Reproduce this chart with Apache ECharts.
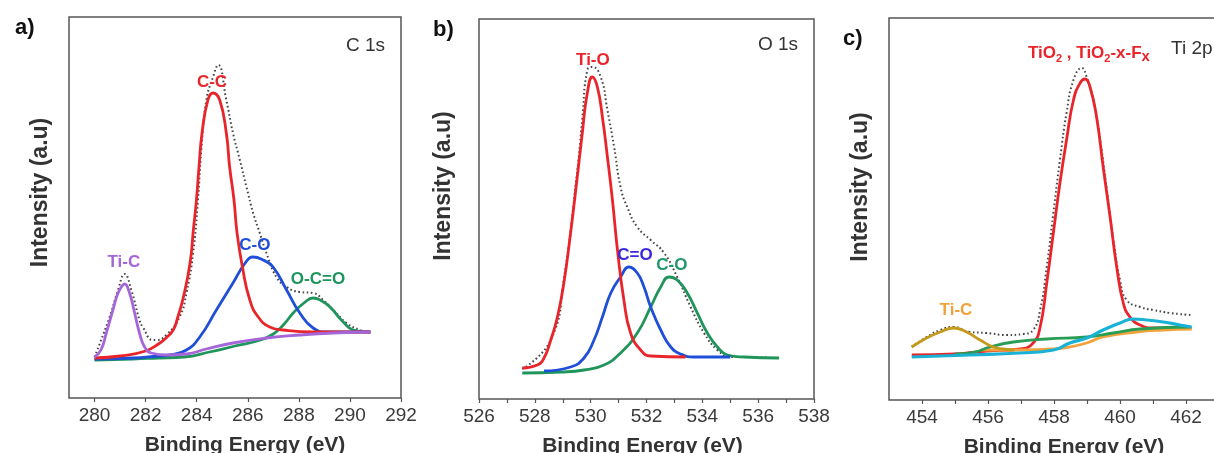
<!DOCTYPE html>
<html><head><meta charset="utf-8">
<script src="https://cdn.jsdelivr.net/npm/echarts@6/dist/echarts.min.js"></script>
<style>html,body{margin:0;padding:0;background:#fff}#c{width:1214px;height:453px}</style>
</head><body><div id="c"></div>
<script>
// ---------- data (binding energy eV, intensity a.u.) ----------
const aMajorTicks = [280, 282, 284, 286, 288, 290, 292];
const aMinorTicks = [];
const bMajorTicks = [526, 528, 530, 532, 534, 536, 538];
const bMinorTicks = [527, 529, 531, 533, 535, 537];
const cMajorTicks = [454, 456, 458, 460, 462];
const cMinorTicks = [455, 457, 459, 461];

// a) C 1s
const aTiC = [[280.0,41],[280.25,48],[280.46,65],[280.72,88],[280.92,105],[281.11,113],[281.18,114],[281.37,105],[281.57,85],[281.76,65],[281.96,51],[282.22,45],[282.81,43],[283.6,44],[284.38,49],[285.42,55],[286.73,60],[288.04,63],[289.35,65],[290.8,66]];
const aCC = [[280.0,40],[281.0,42],[282.0,47],[282.56,55],[282.8,60],[283.08,68],[283.25,80],[283.48,101],[283.74,135],[283.87,168],[283.99,198],[284.09,231],[284.21,265],[284.44,298],[284.64,305],[284.9,298],[285.16,265],[285.29,231],[285.46,198],[285.58,165],[285.79,131],[286.08,98],[286.41,81],[286.86,71],[287.39,68],[288.5,66],[290.8,66]];
const aCO = [[280.0,39],[281.5,40],[282.5,42],[282.94,43],[283.6,48],[284.12,61],[284.77,88],[285.42,115],[285.9,135],[286.21,141],[286.6,138],[286.99,131],[287.52,108],[288.04,85],[288.56,70],[289.1,66],[290.0,66],[290.8,66]];
const aOCO = [[280.0,38],[281.5,39],[282.5,40],[283.5,41],[284.5,46],[285.5,52],[286.5,58],[287.0,64],[287.39,73],[287.78,85],[288.2,95],[288.56,100],[288.9,97],[289.22,91],[289.74,76],[290.13,68],[290.8,66]];
const aEnv = [[280.0,41],[280.59,81],[280.92,108],[281.18,124],[281.44,108],[281.76,78],[281.89,71],[282.28,58],[282.42,58],[282.81,63],[283.33,81],[283.6,105],[283.86,145],[284.05,198],[284.18,248],[284.38,298],[284.64,321],[284.84,333],[285.16,298],[285.42,265],[285.69,238],[285.95,211],[286.21,185],[286.47,165],[286.73,145],[287.12,121],[287.52,111],[288.04,106],[288.56,105],[288.95,98],[289.35,88],[289.87,75],[290.39,68],[290.78,65]];

// b) O 1s
const bTiO = [[527.55,31],[528.09,34],[528.33,41],[528.57,59],[528.81,82],[529.04,116],[529.28,166],[529.52,222],[529.7,266],[529.88,306],[530.06,322],[530.24,312],[530.42,282],[530.6,242],[530.78,199],[530.96,149],[531.19,99],[531.43,66],[531.79,49],[532.15,43],[533.4,42]];
const bCdO = [[528.33,28],[529.28,32],[529.76,41],[530.12,59],[530.42,82],[530.72,106],[531.07,122],[531.37,132],[531.67,126],[531.91,112],[532.15,92],[532.51,69],[532.87,52],[533.22,45],[533.7,42],[534.3,42],[535.0,42]];
const bCO = [[527.55,26],[528.93,27],[529.76,29],[530.48,34],[531.07,46],[531.67,66],[532.15,92],[532.51,112],[532.81,122],[533.1,119],[533.46,106],[533.82,86],[534.18,66],[534.54,52],[534.9,44],[535.5,42],[536.75,41]];
const bEnv = [[527.55,30],[528.57,59],[529.04,120],[529.52,228],[529.7,280],[529.88,329],[530.06,332],[530.36,322],[530.6,289],[530.84,252],[531.07,212],[531.31,192],[531.67,172],[532.15,159],[532.63,146],[533.1,122],[533.58,92],[534.06,66],[534.54,49],[535.01,42],[535.5,42],[536.57,41]];

// c) Ti 2p
const cTiO2 = [[453.69,45],[455.0,46],[455.96,49],[456.97,51],[457.37,57],[457.58,73],[457.78,117],[457.98,167],[458.18,217],[458.38,260],[458.59,300],[458.79,317],[458.94,321],[459.09,313],[459.29,283],[459.49,233],[459.7,183],[459.9,133],[460.1,97],[460.3,83],[460.61,75],[461.01,72],[462.17,72]];
const cTiC = [[453.69,53],[454.14,62],[454.55,68],[454.95,72],[455.35,68],[455.76,60],[456.16,53],[456.46,51],[456.8,50]];
const cOrange = [[455.8,50],[456.97,50],[457.98,51],[458.48,53],[458.99,57],[459.49,63],[460.5,68],[461.3,70],[462.17,71]];
const cGreen = [[455.0,46],[455.6,48],[456.06,53],[456.77,58],[457.78,61],[458.99,63],[459.8,67],[460.61,71],[462.12,73]];
const cCyan = [[453.69,43],[455.45,45],[456.97,47],[457.98,50],[458.48,57],[458.99,62],[459.49,70],[460.0,77],[460.4,81],[460.81,80],[461.31,78],[461.82,75],[462.17,73]];
const cEnv = [[453.69,53],[454.14,63],[454.55,70],[454.95,73],[455.45,68],[455.96,67],[456.57,65],[457.07,66],[457.37,70],[457.58,90],[457.78,133],[457.98,187],[458.18,240],[458.38,287],[458.59,320],[458.84,332],[458.99,323],[459.19,300],[459.39,262],[459.6,210],[459.8,160],[460.0,120],[460.2,100],[460.61,93],[461.01,90],[461.52,87],[462.17,85]];

// ---------- styling ----------
const FONT = '"Liberation Sans", Arial, sans-serif';
const RED = '#e8252b', BLUE = '#1f4ed8', GREEN = '#1f955c', PURPLE = '#a466d9';
const GOLD = '#c49a1a', CYAN = '#19b2d6', GREEN2 = '#2a9d55', ORANGE = '#f2a23a';
const ENV = '#444';
const LW = 2.8;

function xAxis(gi, min, max, major, minor, padL, padR) {
  return {
    type: 'value', gridIndex: gi, min: min, max: max,
    axisLine: { show: false },
    splitLine: { show: false },
    axisTick: { show: true, customValues: major.concat(minor), length: 4, lineStyle: { color: '#555', width: 1.2 } },
    axisLabel: { show: true, customValues: major, fontSize: 19, color: '#3a3a3a', fontFamily: FONT, margin: 8 },
    name: 'Binding Energy (eV)', nameLocation: 'middle', nameGap: 37,
    nameTextStyle: { fontSize: 21, fontWeight: 'bold', color: '#333', fontFamily: FONT, padding: [0, padR, 0, padL] }
  };
}
function yAxis(gi, max, gap, padL) {
  return {
    type: 'value', gridIndex: gi, min: 0, max: max,
    axisLine: { show: false }, axisTick: { show: false }, axisLabel: { show: false }, splitLine: { show: false },
    name: 'Intensity (a.u)', nameLocation: 'middle', nameRotate: 90, nameGap: gap,
    nameTextStyle: { fontSize: 23, fontWeight: 'bold', color: '#333', fontFamily: FONT, padding: [0, 0, 0, padL] }
  };
}
function line(gi, data, color, width, extra) {
  return Object.assign({
    type: 'line', xAxisIndex: gi, yAxisIndex: gi, data: data, showSymbol: false, symbol: 'none',
    smooth: 0.5, animation: false, silent: true,
    lineStyle: { color: color, width: width }
  }, extra || {});
}
function env(gi, data) {
  return line(gi, data, ENV, 2, { lineStyle: { color: ENV, width: 2, type: [1.6, 2.6] }, z: 1 });
}
function tag(text, color, coord, extraLabel) {
  return {
    symbol: 'rect', symbolSize: 1, silent: true, itemStyle: { color: 'rgba(0,0,0,0)' },
    label: Object.assign({ show: true, position: 'inside', formatter: text, color: color, fontWeight: 'bold', fontSize: 17, fontFamily: FONT }, extraLabel || {}),
    data: [{ coord: coord }]
  };
}

const gridStyle = { show: true, borderColor: '#555', borderWidth: 1.5, backgroundColor: 'transparent', containLabel: false, outerBoundsMode: 'none' };

const option = {
  animation: false,
  backgroundColor: '#fff',
  title: [
    { text: 'a)', left: 10, top: 12, textStyle: { fontSize: 22, fontWeight: 'bold', color: '#111', fontFamily: FONT } },
    { text: 'b)', left: 428, top: 14, textStyle: { fontSize: 22, fontWeight: 'bold', color: '#111', fontFamily: FONT } },
    { text: 'c)', left: 838, top: 23, textStyle: { fontSize: 22, fontWeight: 'bold', color: '#111', fontFamily: FONT } },
    { text: 'C 1s', left: 341, top: 31, textStyle: { fontSize: 19, fontWeight: 'normal', color: '#333', fontFamily: FONT } },
    { text: 'O 1s', left: 753, top: 30, textStyle: { fontSize: 19, fontWeight: 'normal', color: '#333', fontFamily: FONT } },
    { text: 'Ti 2p', left: 1166, top: 34, textStyle: { fontSize: 19, fontWeight: 'normal', color: '#333', fontFamily: FONT } }
  ],
  grid: [
    Object.assign({ left: 69, top: 17, width: 332, height: 381 }, gridStyle),
    Object.assign({ left: 479, top: 19, width: 335, height: 380 }, gridStyle),
    Object.assign({ left: 889, top: 18, width: 330, height: 382 }, gridStyle)
  ],
  xAxis: [
    xAxis(0, 279, 292, aMajorTicks, aMinorTicks, 20, 0),
    xAxis(1, 526, 538, bMajorTicks, bMinorTicks, 0, 8),
    xAxis(2, 453, 463, cMajorTicks, cMinorTicks, 20, 0)
  ],
  yAxis: [
    yAxis(0, 381, 17, 30),
    yAxis(1, 380, 24, 46),
    yAxis(2, 382, 17, 44)
  ],
  series: [
    // a
    env(0, aEnv),
    line(0, aOCO, GREEN, LW, { markPoint: tag('O-C=O', GREEN, [288.75, 119]) }),
    line(0, aCO, BLUE, LW, { markPoint: tag('C-O', BLUE, [286.28, 153]) }),
    line(0, aCC, RED, LW, { markPoint: tag('C-C', RED, [284.6, 316]) }),
    line(0, aTiC, PURPLE, LW, { markPoint: tag('Ti-C', PURPLE, [281.15, 136]) }),
    // b
    env(1, bEnv),
    line(1, bCO, GREEN, LW, { markPoint: tag('C-O', '#23966a', [532.91, 134]) }),
    line(1, bCdO, BLUE, LW, { markPoint: tag('C=O', '#3a2adb', [531.59, 144]) }),
    line(1, bTiO, RED, LW, { markPoint: tag('Ti-O', RED, [530.08, 339]) }),
    // c
    env(2, cEnv),
    line(2, cTiO2, RED, LW, {
      markPoint: tag('{m|TiO}{s|2}{m| , TiO}{s|2}{m|-x-F}{x|x}', RED, [459.06, 347], {
        rich: {
          m: { fontSize: 17, fontWeight: 'bold', color: RED, fontFamily: FONT, lineHeight: 22, verticalAlign: 'middle' },
          s: { fontSize: 11, fontWeight: 'bold', color: RED, fontFamily: FONT, lineHeight: 22, verticalAlign: 'bottom' },
          x: { fontSize: 15, fontWeight: 'bold', color: RED, fontFamily: FONT, lineHeight: 22, verticalAlign: 'bottom' }
        }
      })
    }),
    line(2, cOrange, ORANGE, LW),
    line(2, cGreen, GREEN2, LW),
    line(2, cTiC, GOLD, LW, { markPoint: tag('Ti-C', ORANGE, [455.03, 90]) }),
    line(2, cCyan, CYAN, 3.2)
  ]
};

const chart = echarts.init(document.getElementById('c'), null, { renderer: 'canvas' });
chart.setOption(option);
</script>
</body></html>
